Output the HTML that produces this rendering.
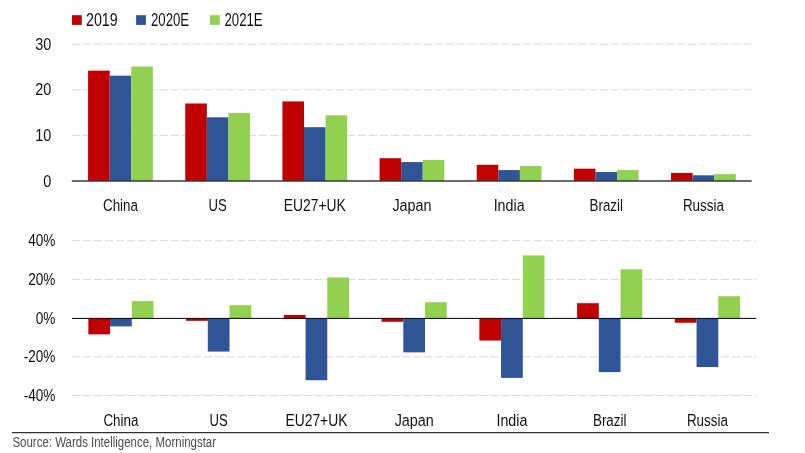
<!DOCTYPE html>
<html><head><meta charset="utf-8"><title>Chart</title>
<style>html,body{margin:0;padding:0;background:#fff}svg{display:block}text{font-family:"Liberation Sans",sans-serif;}</style></head><body>
<svg width="805" height="453" viewBox="0 0 805 453">
<rect width="805" height="453" fill="#fff"/>
<rect x="72.0" y="15.2" width="9.8" height="9.7" fill="#C00000"/>
<text transform="translate(86.00,25.60) scale(0.81,1)" font-size="17.6" text-anchor="start" fill="#111">2019</text>
<rect x="136.1" y="15.2" width="9.8" height="9.7" fill="#2F5597"/>
<text transform="translate(151.00,25.60) scale(0.75,1)" font-size="17.6" text-anchor="start" fill="#111">2020E</text>
<rect x="210.0" y="15.2" width="9.8" height="9.7" fill="#92D050"/>
<text transform="translate(224.40,25.60) scale(0.753,1)" font-size="17.6" text-anchor="start" fill="#111">2021E</text>
<line x1="71.9" x2="752.0" y1="135.40" y2="135.40" stroke="#D9D9D9" stroke-width="1" stroke-dasharray="8.2 2.8"/>
<line x1="71.9" x2="752.0" y1="89.80" y2="89.80" stroke="#D9D9D9" stroke-width="1" stroke-dasharray="8.2 2.8"/>
<line x1="71.9" x2="752.0" y1="44.20" y2="44.20" stroke="#D9D9D9" stroke-width="1" stroke-dasharray="8.2 2.8"/>
<text transform="translate(51.30,186.50) scale(0.85,1)" font-size="17" text-anchor="end" fill="#111">0</text>
<text transform="translate(51.30,140.90) scale(0.85,1)" font-size="17" text-anchor="end" fill="#111">10</text>
<text transform="translate(51.30,95.30) scale(0.85,1)" font-size="17" text-anchor="end" fill="#111">20</text>
<text transform="translate(51.30,49.70) scale(0.85,1)" font-size="17" text-anchor="end" fill="#111">30</text>
<rect x="88.09" y="70.65" width="21.59" height="110.35" fill="#C00000"/>
<rect x="109.68" y="75.66" width="21.59" height="105.34" fill="#2F5597"/>
<rect x="131.27" y="66.54" width="21.59" height="114.46" fill="#92D050"/>
<text transform="translate(120.48,210.60) scale(0.79,1)" font-size="17" text-anchor="middle" fill="#111">China</text>
<rect x="185.25" y="103.48" width="21.59" height="77.52" fill="#C00000"/>
<rect x="206.84" y="117.30" width="21.59" height="63.70" fill="#2F5597"/>
<rect x="228.43" y="113.06" width="21.59" height="67.94" fill="#92D050"/>
<text transform="translate(217.64,210.60) scale(0.77,1)" font-size="17" text-anchor="middle" fill="#111">US</text>
<rect x="282.41" y="101.43" width="21.59" height="79.57" fill="#C00000"/>
<rect x="304.00" y="127.19" width="21.59" height="53.81" fill="#2F5597"/>
<rect x="325.59" y="115.34" width="21.59" height="65.66" fill="#92D050"/>
<text transform="translate(314.79,210.60) scale(0.815,1)" font-size="17" text-anchor="middle" fill="#111">EU27+UK</text>
<rect x="379.56" y="158.20" width="21.59" height="22.80" fill="#C00000"/>
<rect x="401.15" y="162.08" width="21.59" height="18.92" fill="#2F5597"/>
<rect x="422.75" y="160.02" width="21.59" height="20.98" fill="#92D050"/>
<text transform="translate(411.95,210.60) scale(0.845,1)" font-size="17" text-anchor="middle" fill="#111">Japan</text>
<rect x="476.72" y="164.81" width="21.59" height="16.19" fill="#C00000"/>
<rect x="498.31" y="170.06" width="21.59" height="10.94" fill="#2F5597"/>
<rect x="519.90" y="165.95" width="21.59" height="15.05" fill="#92D050"/>
<text transform="translate(509.11,210.60) scale(0.84,1)" font-size="17" text-anchor="middle" fill="#111">India</text>
<rect x="573.88" y="168.69" width="21.59" height="12.31" fill="#C00000"/>
<rect x="595.47" y="172.02" width="21.59" height="8.98" fill="#2F5597"/>
<rect x="617.06" y="170.06" width="21.59" height="10.94" fill="#92D050"/>
<text transform="translate(606.26,210.60) scale(0.785,1)" font-size="17" text-anchor="middle" fill="#111">Brazil</text>
<rect x="671.04" y="172.93" width="21.59" height="8.07" fill="#C00000"/>
<rect x="692.63" y="175.30" width="21.59" height="5.70" fill="#2F5597"/>
<rect x="714.22" y="174.16" width="21.59" height="6.84" fill="#92D050"/>
<text transform="translate(703.42,210.60) scale(0.79,1)" font-size="17" text-anchor="middle" fill="#111">Russia</text>
<line x1="71.8" x2="751.6" y1="181.0" y2="181.0" stroke="#3a3a3a" stroke-width="1.5"/>
<line x1="72.05" x2="756.3" y1="395.55" y2="395.55" stroke="#D9D9D9" stroke-width="1" stroke-dasharray="8.2 2.8"/>
<line x1="72.05" x2="756.3" y1="356.85" y2="356.85" stroke="#D9D9D9" stroke-width="1" stroke-dasharray="8.2 2.8"/>
<line x1="72.05" x2="756.3" y1="279.45" y2="279.45" stroke="#D9D9D9" stroke-width="1" stroke-dasharray="8.2 2.8"/>
<line x1="72.05" x2="756.3" y1="240.75" y2="240.75" stroke="#D9D9D9" stroke-width="1" stroke-dasharray="8.2 2.8"/>
<text transform="translate(55.40,401.05) scale(0.8,1)" font-size="17" text-anchor="end" fill="#111">-40%</text>
<text transform="translate(55.40,362.35) scale(0.8,1)" font-size="17" text-anchor="end" fill="#111">-20%</text>
<text transform="translate(55.40,323.65) scale(0.8,1)" font-size="17" text-anchor="end" fill="#111">0%</text>
<text transform="translate(55.40,284.95) scale(0.8,1)" font-size="17" text-anchor="end" fill="#111">20%</text>
<text transform="translate(55.40,246.25) scale(0.8,1)" font-size="17" text-anchor="end" fill="#111">40%</text>
<rect x="88.34" y="318.30" width="21.72" height="16.06" fill="#C00000"/>
<rect x="110.06" y="318.30" width="21.72" height="8.13" fill="#2F5597"/>
<rect x="131.79" y="301.08" width="21.72" height="17.22" fill="#92D050"/>
<text transform="translate(120.92,425.50) scale(0.79,1)" font-size="17" text-anchor="middle" fill="#111">China</text>
<rect x="186.09" y="318.30" width="21.72" height="2.52" fill="#C00000"/>
<rect x="207.81" y="318.30" width="21.72" height="33.28" fill="#2F5597"/>
<rect x="229.54" y="305.14" width="21.72" height="13.16" fill="#92D050"/>
<text transform="translate(218.68,425.50) scale(0.77,1)" font-size="17" text-anchor="middle" fill="#111">US</text>
<rect x="283.84" y="315.01" width="21.72" height="3.29" fill="#C00000"/>
<rect x="305.56" y="318.30" width="21.72" height="61.92" fill="#2F5597"/>
<rect x="327.29" y="277.47" width="21.72" height="40.83" fill="#92D050"/>
<text transform="translate(316.43,425.50) scale(0.815,1)" font-size="17" text-anchor="middle" fill="#111">EU27+UK</text>
<rect x="381.59" y="318.30" width="21.72" height="3.48" fill="#C00000"/>
<rect x="403.31" y="318.30" width="21.72" height="34.06" fill="#2F5597"/>
<rect x="425.04" y="302.24" width="21.72" height="16.06" fill="#92D050"/>
<text transform="translate(414.18,425.50) scale(0.845,1)" font-size="17" text-anchor="middle" fill="#111">Japan</text>
<rect x="479.34" y="318.30" width="21.72" height="22.25" fill="#C00000"/>
<rect x="501.06" y="318.30" width="21.72" height="59.60" fill="#2F5597"/>
<rect x="522.79" y="255.41" width="21.72" height="62.89" fill="#92D050"/>
<text transform="translate(511.93,425.50) scale(0.84,1)" font-size="17" text-anchor="middle" fill="#111">India</text>
<rect x="577.09" y="303.21" width="21.72" height="15.09" fill="#C00000"/>
<rect x="598.81" y="318.30" width="21.72" height="53.79" fill="#2F5597"/>
<rect x="620.54" y="269.34" width="21.72" height="48.96" fill="#92D050"/>
<text transform="translate(609.67,425.50) scale(0.785,1)" font-size="17" text-anchor="middle" fill="#111">Brazil</text>
<rect x="674.84" y="318.30" width="21.72" height="4.45" fill="#C00000"/>
<rect x="696.56" y="318.30" width="21.72" height="48.76" fill="#2F5597"/>
<rect x="718.29" y="296.24" width="21.72" height="22.06" fill="#92D050"/>
<text transform="translate(707.42,425.50) scale(0.79,1)" font-size="17" text-anchor="middle" fill="#111">Russia</text>
<line x1="72.05" x2="756.3" y1="318.4" y2="318.4" stroke="#000" stroke-width="1"/>
<line x1="12" x2="769" y1="432.7" y2="432.7" stroke="#000" stroke-width="1"/>
<text transform="translate(12.40,447.20) scale(0.82,1)" font-size="14" text-anchor="start" fill="#4d4d4d">Source: Wards Intelligence, Morningstar</text>
</svg></body></html>
